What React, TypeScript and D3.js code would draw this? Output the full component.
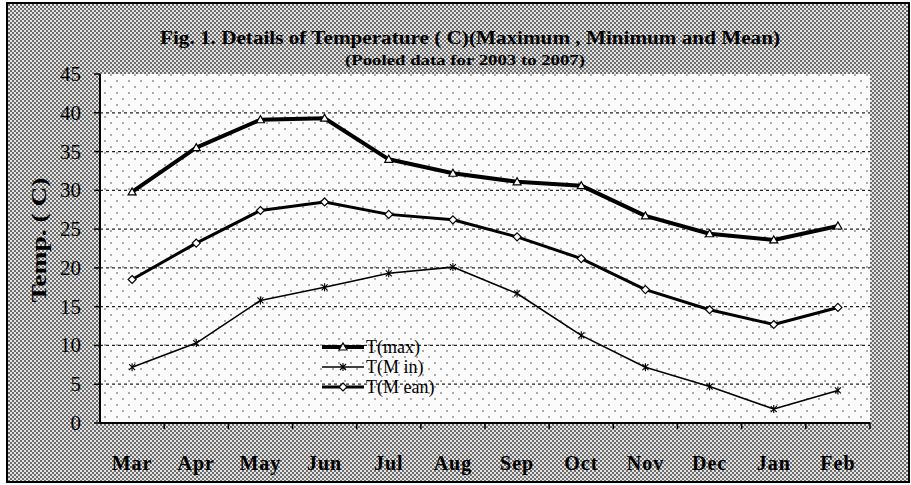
import React from "react";
import * as d3 from "d3";

const months = ["Mar", "Apr", "May", "Jun", "Jul", "Aug", "Sep", "Oct", "Nov", "Dec", "Jan", "Feb"];
const tMax = [29.8, 35.5, 39.1, 39.3, 34.0, 32.2, 31.1, 30.6, 26.7, 24.4, 23.6, 25.4];
const tMin = [7.2, 10.3, 15.8, 17.5, 19.3, 20.1, 16.7, 11.3, 7.2, 4.7, 1.8, 4.2];
const tMean = [18.5, 23.2, 27.4, 28.5, 26.9, 26.2, 24.0, 21.2, 17.2, 14.6, 12.7, 14.9];
const yTicks = [0, 5, 10, 15, 20, 25, 30, 35, 40, 45];

const W = 911;
const H = 485;
const left = 100;
const right = 870;
const top = 74;
const bottom = 423;

export default function App() {
  const x = d3.scaleBand<string>().domain(months).range([left, right]).padding(0);
  const y = d3.scaleLinear().domain([0, 45]).range([bottom, top]);
  const cx = (m: string) => (x(m) ?? 0) + x.bandwidth() / 2;

  const line = d3
    .line<number>()
    .x((_, i) => cx(months[i]))
    .y((d) => y(d));

  const serif = "'Liberation Serif', 'DejaVu Serif', serif";

  const tri = (px: number, py: number, k: string) => (
    <path key={k} d={`M${px - 4},${py + 3}L${px + 4},${py + 3}L${px},${py - 4}Z`} fill="#fff" stroke="#000" strokeWidth={1.2} />
  );
  const dia = (px: number, py: number, k: string) => (
    <path key={k} d={`M${px},${py - 4}L${px + 4},${py}L${px},${py + 4}L${px - 4},${py}Z`} fill="#fff" stroke="#000" strokeWidth={1.2} />
  );
  const star = (px: number, py: number, k: string) => (
    <path key={k} d={`M${px - 3},${py - 3}L${px + 3},${py + 3}M${px - 3},${py + 3}L${px + 3},${py - 3}M${px},${py - 4}L${px},${py + 4}`} stroke="#000" strokeWidth={1.1} />
  );

  const legend = [
    { label: "T(max)", w: 4, mk: tri },
    { label: "T(M in)", w: 1.6, mk: star },
    { label: "T(M ean)", w: 3, mk: dia },
  ];

  return (
    <svg width={W} height={H} style={{ position: "absolute", left: 0, top: 0 }}>
      <defs>
        <pattern id="halftone" width="4" height="4" patternUnits="userSpaceOnUse">
          <rect width="4" height="4" fill="#e4e4e4" />
          <circle cx="1" cy="1" r="0.9" fill="#333" />
          <circle cx="3" cy="3" r="0.9" fill="#333" />
        </pattern>
        <pattern id="sparse" width="12" height="12" patternUnits="userSpaceOnUse">
          <rect width="12" height="12" fill="#fbfbfb" />
          <circle cx="3" cy="3" r="0.8" fill="#444" />
          <circle cx="9" cy="9" r="0.8" fill="#444" />
        </pattern>
      </defs>
      <rect x={0} y={0} width={W} height={H} fill="#fff" />
      <rect x={7} y={3} width={902} height={479} fill="url(#halftone)" stroke="#000" strokeWidth={2} />
      <rect x={left} y={top} width={right - left} height={bottom - top} fill="url(#sparse)" />

      {/* grid */}
      {yTicks.slice(1, -1).map((t) => (
        <line key={t} x1={left} x2={right} y1={y(t)} y2={y(t)} stroke="#222" strokeWidth={1.2} strokeDasharray="3,3" />
      ))}

      {/* axes */}
      <line x1={left} x2={left} y1={top} y2={bottom} stroke="#000" strokeWidth={2} />
      <line x1={left} x2={right} y1={bottom} y2={bottom} stroke="#000" strokeWidth={2} />
      {yTicks.map((t) => (
        <g key={t}>
          <line x1={left - 6} x2={left} y1={y(t)} y2={y(t)} stroke="#000" strokeWidth={1.5} />
          <text x={left - 19} y={y(t) + 7} textAnchor="end" fontFamily={serif} fontSize={21}>
            {t}
          </text>
        </g>
      ))}
      {months.map((m) => (
        <line key={m} x1={(x(m) ?? 0) + x.bandwidth()} x2={(x(m) ?? 0) + x.bandwidth()} y1={bottom} y2={bottom + 6} stroke="#000" strokeWidth={1.5} />
      ))}
      {months.map((m) => (
        <text key={m} x={cx(m)} y={470} textAnchor="middle" fontFamily={serif} fontWeight="bold" fontSize={20} letterSpacing={1}>
          {m}
        </text>
      ))}

      <text transform={`translate(46,240) rotate(-90)`} textAnchor="middle" fontFamily={serif} fontWeight="bold" fontSize={20} textLength={125} lengthAdjust="spacingAndGlyphs">
        Temp. ( C)
      </text>

      <text x={470} y={44} textAnchor="middle" fontFamily={serif} fontWeight="bold" fontSize={18} textLength={620} lengthAdjust="spacingAndGlyphs">
        Fig. 1. Details of Temperature ( C)(Maximum , Minimum  and Mean)
      </text>
      <text x={465} y={65} textAnchor="middle" fontFamily={serif} fontWeight="bold" fontSize={14} textLength={240} lengthAdjust="spacingAndGlyphs">
        (Pooled data for 2003 to 2007)
      </text>

      {/* series */}
      <path d={line(tMax) ?? ""} fill="none" stroke="#000" strokeWidth={4} strokeLinejoin="round" />
      <path d={line(tMean) ?? ""} fill="none" stroke="#000" strokeWidth={3} strokeLinejoin="round" />
      <path d={line(tMin) ?? ""} fill="none" stroke="#000" strokeWidth={1.6} strokeLinejoin="round" />
      {tMax.map((v, i) => tri(cx(months[i]), y(v), "a" + i))}
      {tMean.map((v, i) => dia(cx(months[i]), y(v), "b" + i))}
      {tMin.map((v, i) => star(cx(months[i]), y(v), "c" + i))}

      {/* legend */}
      {legend.map((l, i) => {
        const ly = 347 + i * 20;
        return (
          <g key={l.label}>
            <line x1={322} x2={364} y1={ly} y2={ly} stroke="#000" strokeWidth={l.w} />
            {l.mk(343, ly, "lm" + i)}
            <text x={366} y={ly + 6} fontFamily={serif} fontSize={18}>
              {l.label}
            </text>
          </g>
        );
      })}
    </svg>
  );
}
